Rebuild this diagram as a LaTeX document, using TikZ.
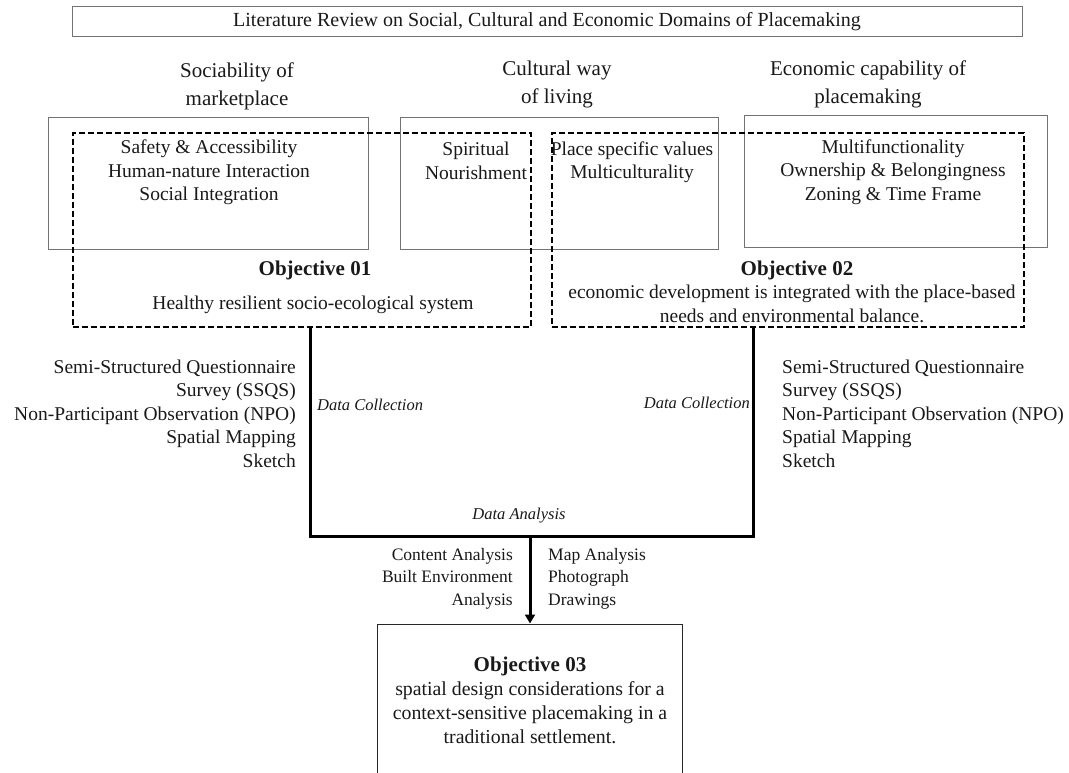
\documentclass[tikz,border=0pt]{standalone}
\usepackage{fontspec}
\setmainfont{Liberation Serif}
\usetikzlibrary{arrows.meta}
\definecolor{boxgray}{gray}{0.45}
\definecolor{txt}{gray}{0.1}
\tikzset{
  solidbox/.style={draw=boxgray, line width=1pt, minimum width=#1, inner sep=0pt},
  dashbox/.style={draw=black, line width=2pt, dash pattern=on 6pt off 3pt, inner sep=0pt},
  heading/.style={align=center, text=txt, font=\fontsize{21}{28}\selectfont, inner sep=0pt},
  item/.style={align=center, text=txt, font=\fontsize{19.5}{23.5}\selectfont, inner sep=0pt},
  objt/.style={text=txt, font=\fontsize{21}{24}\selectfont\bfseries, inner sep=0pt},
  lab/.style={text=txt, font=\fontsize{16.5}{20}\selectfont\itshape, inner sep=0pt},
  small/.style={text=txt, font=\fontsize{17.5}{22.5}\selectfont, inner sep=0pt},
  flow/.style={line width=3pt, line cap=rect},
}
\begin{document}
\begin{tikzpicture}[x=1pt,y=-1pt]
\useasboundingbox (0,0) rectangle (1069,773);
% top box
\node[draw=boxgray, line width=1pt, minimum width=950pt, minimum height=30pt, inner sep=0pt,
      text=txt, font=\fontsize{20}{22}\selectfont] (lit) at (547,22)
  {Literature Review on Social, Cultural and Economic Domains of Placemaking};
% headings
\node[heading] (h1) at (237,86) {Sociability of\\marketplace};
\node[heading] (h2) at (557,84) {Cultural way\\of living};
\node[heading] (h3) at (868,84) {Economic capability of\\placemaking};
% solid boxes
\node[draw=boxgray, line width=1pt, minimum width=320pt, minimum height=131pt, inner sep=0pt] (b1) at (208,183.5) {};
\node[draw=boxgray, line width=1pt, minimum width=318pt, minimum height=131pt, inner sep=0pt] (b2) at (559,183.5) {};
\node[draw=boxgray, line width=1pt, minimum width=303pt, minimum height=131pt, inner sep=0pt] (b3) at (895.5,181.5) {};
% dashed objective boxes
\node[dashbox, minimum width=458pt, minimum height=194pt] (d1) at (302,230) {};
\node[dashbox, minimum width=472pt, minimum height=194pt] (d2) at (788,230) {};
% box texts
\node[item] (t1) at (209,172.5) {Safety \& Accessibility\\Human-nature Interaction\\Social Integration};
\node[item] (t2) at (476,161) {Spiritual\\Nourishment};
\node[item] (t3) at (632,162) {Place specific values\\Multiculturality};
\node[item] (t4) at (893,172) {Multifunctionality\\Ownership \& Belongingness\\Zoning \& Time Frame};
% objectives
\node[objt] (o1) at (315,270) {Objective 01};
\node[item] (o1t) at (313,305) {Healthy resilient socio-ecological system};
\node[objt] (o2) at (797,270) {Objective 02};
\node[item] (o2t) at (792,304) {economic development is integrated with the place-based\\needs and environmental balance.};
% methods lists
\node[item, align=right, anchor=east] (m1) at (296,413.5) {Semi-Structured Questionnaire\\Survey (SSQS)\\Non-Participant Observation (NPO)\\Spatial Mapping\\Sketch};
\node[item, align=left, anchor=west] (m2) at (782,413.5) {Semi-Structured Questionnaire\\Survey (SSQS)\\Non-Participant Observation (NPO)\\Spatial Mapping\\Sketch};
\node[lab, anchor=west] (dc1) at (317,405) {Data Collection};
\node[lab, anchor=east] (dc2) at (750,403) {Data Collection};
\node[lab] (da) at (519,516) {Data Analysis};
% analysis lists
\node[small, align=right, anchor=east] (a1) at (513,578.5) {Content Analysis\\Built Environment\\Analysis};
\node[small, align=left, anchor=west] (a2) at (548,578.5) {Map Analysis\\Photograph\\Drawings};
% bottom box
\node[draw=black!85, line width=1pt, minimum width=305pt, minimum height=160pt, inner sep=0pt] (o3) at (529.5,704) {};
\node[item, font=\fontsize{19.8}{24}\selectfont] (o3t) at (530,700) {\textbf{\fontsize{21}{24}\selectfont Objective 03}\\spatial design considerations for a\\context-sensitive placemaking in a\\traditional settlement.};
% connectors
\coordinate (c1) at (310,536);
\coordinate (c2) at (753,536);
\coordinate (mid) at (530,536);
\draw[flow] (d1.south -| c1) -- (c1) -- (c2) -- (d2.south -| c2);
\draw[line width=3pt, -{Triangle[length=9pt,width=10pt]}] (mid) -- (o3.north -| mid);
\end{tikzpicture}
\end{document}
